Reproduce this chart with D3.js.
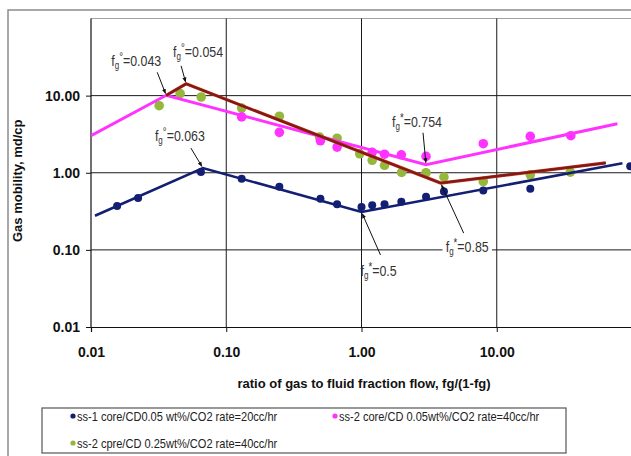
<!DOCTYPE html>
<html>
<head>
<meta charset="utf-8">
<script src="https://cdn.jsdelivr.net/npm/d3@7"></script>
<style>
  body { margin: 0; background: #fff; }
  svg { display: block; }
</style>
</head>
<body>
<div id="chart"></div>
<script>
// Measured points, gas mobility (md/cp) vs fg/(1-fg)
const ss1X = [0.0156, 0.0223, 0.065, 0.13, 0.247, 0.497, 0.66, 1.0, 1.2, 1.48, 1.97, 3.0, 4.07, 7.95, 17.7, 97];
const ss1Y = [0.37, 0.47, 1.02, 0.835, 0.66, 0.46, 0.39, 0.36, 0.38, 0.39, 0.42, 0.49, 0.57, 0.59, 0.62, 1.21];

const ss2lowX = [0.13, 0.247, 0.497, 0.66, 1.2, 1.48, 1.97, 3.0, 7.95, 17.7, 35.3];
const ss2lowY = [5.3, 3.34, 2.6, 2.15, 1.84, 1.74, 1.71, 1.63, 2.38, 2.96, 3.02];

const ss2highX = [0.0319, 0.0456, 0.0653, 0.13, 0.247, 0.49, 0.66, 0.97, 1.2, 1.48, 1.98, 3.0, 4.07, 7.95, 17.7, 35];
const ss2highY = [7.4, 10.6, 9.6, 6.9, 5.4, 2.9, 2.8, 1.76, 1.45, 1.25, 1.01, 1.0, 0.88, 0.77, 0.94, 1.02];

// Fitted broken lines
const ss1FitX = [0.0107, 0.0672, 1.0, 85];
const ss1FitY = [0.277, 1.15, 0.31, 1.33];
const ss2lowFitX = [0.01, 0.036, 3.0, 78];
const ss2lowFitY = [3.02, 10.1, 1.27, 4.33];
const ss2highFitX = [0.036, 0.0505, 3.85, 64];
const ss2highFitY = [10.1, 14.2, 0.735, 1.34];

const tickValues = [0.01, 0.1, 1, 10];
const legendLabels = [
  "ss-1 core/CD0.05 wt%/CO2 rate=20cc/hr",
  "ss-2 core/CD 0.05wt%/CO2 rate=40cc/hr",
  "ss-2 cpre/CD 0.25wt%/CO2 rate=40cc/hr"
];

// fg annotations: superscript, value, which fit vertex they point to
const noteSup = ["°", "°", "°", "*", "*", "*"];
const noteValue = ["0.043", "0.054", "0.063", "0.754", "0.85", "0.5"];
const noteFit = ["ss2low", "ss2high", "ss1", "ss2low", "ss2high", "ss1"];
const noteVertex = [1, 1, 1, 2, 2, 2];

const width = 631, height = 456;
const plot = { left: 91, right: 632, top: 18.5, bottom: 327 };

const svg = d3.select("#chart").append("svg")
  .attr("width", width)
  .attr("height", height);

// outer chart frame
svg.append("rect")
  .attr("x", 8).attr("y", 10)
  .attr("width", 640).attr("height", 470)
  .attr("fill", "#fff")
  .attr("stroke", "#8c8c8c")
  .attr("stroke-width", 1.5);

const x = d3.scaleLog().domain([0.01, 100]).range([plot.left, plot.right]);
const y = d3.scaleLog().domain([0.01, 100]).range([plot.bottom, plot.top]);

// plot top border
svg.append("line")
  .attr("x1", plot.left).attr("x2", plot.right)
  .attr("y1", plot.top).attr("y2", plot.top)
  .attr("stroke", "#a0a0a0");

// grid
const grid = svg.append("g").attr("stroke", "#1a1a1a").attr("stroke-width", 1);
tickValues.slice(1).forEach(v => {
  grid.append("line")
    .attr("x1", x(v)).attr("x2", x(v))
    .attr("y1", plot.top).attr("y2", plot.bottom);
  grid.append("line")
    .attr("x1", plot.left).attr("x2", plot.right)
    .attr("y1", y(v)).attr("y2", y(v));
});

const fmt = d3.format(".2f");
const tickFont = "Liberation Sans, Arial, sans-serif";

const yAxis = svg.append("g")
  .attr("transform", `translate(${plot.left},0)`)
  .call(d3.axisLeft(y).tickValues(tickValues).tickFormat(fmt).tickSize(5).tickPadding(6));
const xAxis = svg.append("g")
  .attr("transform", `translate(0,${plot.bottom})`)
  .call(d3.axisBottom(x).tickValues(tickValues).tickFormat(fmt).tickSize(5).tickPadding(15));

[xAxis, yAxis].forEach(a => {
  a.select(".domain").attr("stroke", "#111").attr("stroke-width", 1.2);
  a.selectAll(".tick line").attr("stroke", "#111");
  a.selectAll(".tick text")
    .attr("fill", "#111")
    .style("font-family", tickFont)
    .style("font-size", "14px")
    .style("font-weight", "bold");
});
yAxis.select(".domain").attr("d", `M0,${plot.top}V${plot.bottom}`);

// axis titles
svg.append("text")
  .attr("transform", `translate(22,${(plot.top + plot.bottom) / 2 + 8}) rotate(-90)`)
  .attr("text-anchor", "middle")
  .style("font-family", tickFont)
  .style("font-size", "13px")
  .style("font-weight", "bold")
  .attr("fill", "#111")
  .text("Gas mobility, md/cp");

svg.append("text")
  .attr("x", 364).attr("y", 388)
  .attr("text-anchor", "middle")
  .style("font-family", tickFont)
  .style("font-size", "13px")
  .style("font-weight", "bold")
  .attr("fill", "#111")
  .text("ratio of gas to fluid fraction flow, fg/(1-fg)");

// data layer
svg.append("clipPath").attr("id", "clip")
  .append("rect")
  .attr("x", plot.left).attr("y", plot.top)
  .attr("width", plot.right - plot.left).attr("height", plot.bottom - plot.top);

const layer = svg.append("g").attr("clip-path", "url(#clip)");

const line = d3.line().x(d => x(d[0])).y(d => y(d[1]));
const zip = (xs, ys) => xs.map((v, i) => [v, ys[i]]);

const fits = {
  ss1: zip(ss1FitX, ss1FitY),
  ss2low: zip(ss2lowFitX, ss2lowFitY),
  ss2high: zip(ss2highFitX, ss2highFitY)
};

const colBlue = "#131f73", colPink = "#ff33ff", colGreen = "#93b83b", colBrown = "#7a1c14";

// points under the fitted lines
const drawPoints = (xs, ys, color, r) => {
  layer.append("g").selectAll("circle")
    .data(zip(xs, ys))
    .join("circle")
    .attr("cx", d => x(d[0]))
    .attr("cy", d => y(d[1]))
    .attr("r", r)
    .attr("fill", color);
};

drawPoints(ss2highX, ss2highY, colGreen, 4.8);
drawPoints(ss2lowX, ss2lowY, colPink, 4.8);

layer.append("path").datum(fits.ss2low)
  .attr("d", line).attr("fill", "none")
  .attr("stroke", colPink).attr("stroke-width", 3);
layer.append("path").datum(fits.ss2high)
  .attr("d", line).attr("fill", "none")
  .attr("stroke", "#c0281e").attr("stroke-width", 3.2);
layer.append("path").datum(fits.ss2high)
  .attr("d", line).attr("fill", "none")
  .attr("stroke", colBrown).attr("stroke-width", 2);
layer.append("path").datum(fits.ss1)
  .attr("d", line).attr("fill", "none")
  .attr("stroke", colBlue).attr("stroke-width", 2.6);

drawPoints(ss1X, ss1Y, colBlue, 4);

// annotation layout: text start and arrow tail, in px from the vertex
const noteLayout = [
  { tx: -55, ty: -29, ax: -9, ay: -23 },
  { tx: -13, ty: -27, ax: -5, ay: -18 },
  { tx: -48, ty: -27, ax: -12, ay: -20 },
  { tx: -34, ty: -38, ax: -3, ay: -32 },
  { tx: 5, ty: 69, ax: 23, ay: 50 },
  { tx: -1, ty: 64, ax: 19, ay: 43 }
];

svg.append("defs").append("marker")
  .attr("id", "arrow")
  .attr("viewBox", "0 0 10 10")
  .attr("refX", 9).attr("refY", 5)
  .attr("markerWidth", 5).attr("markerHeight", 5)
  .attr("orient", "auto")
  .append("path").attr("d", "M0,1L10,5L0,9Z").attr("fill", "#111");

// the original uses a condensed face; squeeze a regular one
const noteFont = "Liberation Sans, Arial, sans-serif";
const squeeze = 0.8;

noteValue.forEach((val, i) => {
  const p = fits[noteFit[i]][noteVertex[i]];
  const px = x(p[0]), py = y(p[1]);
  const L = noteLayout[i];
  const dx = -L.ax, dy = -L.ay, len = Math.hypot(dx, dy);

  svg.append("line")
    .attr("x1", px + L.ax).attr("y1", py + L.ay)
    .attr("x2", px + L.ax + dx * (len - 2) / len)
    .attr("y2", py + L.ay + dy * (len - 2) / len)
    .attr("stroke", "#111").attr("stroke-width", 1)
    .attr("marker-end", "url(#arrow)");

  const g = svg.append("g")
    .attr("transform", `translate(${px + L.tx},${py + L.ty}) scale(${squeeze},1)`);
  const t = g.append("text")
    .style("font-family", noteFont)
    .style("font-size", "15.5px")
    .attr("fill", "#333");
  t.append("tspan").text("f");
  t.append("tspan").attr("dy", 3).style("font-size", "10px").text("g");
  t.append("tspan").attr("dy", -8).style("font-size", "12px").text(noteSup[i]);
  t.append("tspan").attr("dy", 5).text("=" + val);

  if (i === 4) {
    const b = t.node().getBBox();
    g.insert("rect", "text")
      .attr("x", b.x - 4).attr("y", b.y)
      .attr("width", b.width + 8).attr("height", b.height)
      .attr("fill", "#fff");
  }
});

// legend
const legend = svg.append("g");
legend.append("rect")
  .attr("x", 42).attr("y", 408)
  .attr("width", 524).attr("height", 45)
  .attr("fill", "#fff")
  .attr("stroke", "#555").attr("stroke-width", 1.2);

const legendColors = [colBlue, colPink, colGreen];
const legendPos = [[73, 416], [335, 416], [73, 443]];
legendLabels.forEach((lab, i) => {
  const [lx, ly] = legendPos[i];
  legend.append("circle")
    .attr("cx", lx).attr("cy", ly).attr("r", 2.6)
    .attr("fill", legendColors[i]);
  legend.append("text")
    .attr("transform", `translate(${lx + 4},${ly + 4.5}) scale(0.85,1)`)
    .style("font-family", noteFont)
    .style("font-size", "13px")
    .attr("fill", "#222")
    .text(lab);
});
</script>
</body>
</html>
